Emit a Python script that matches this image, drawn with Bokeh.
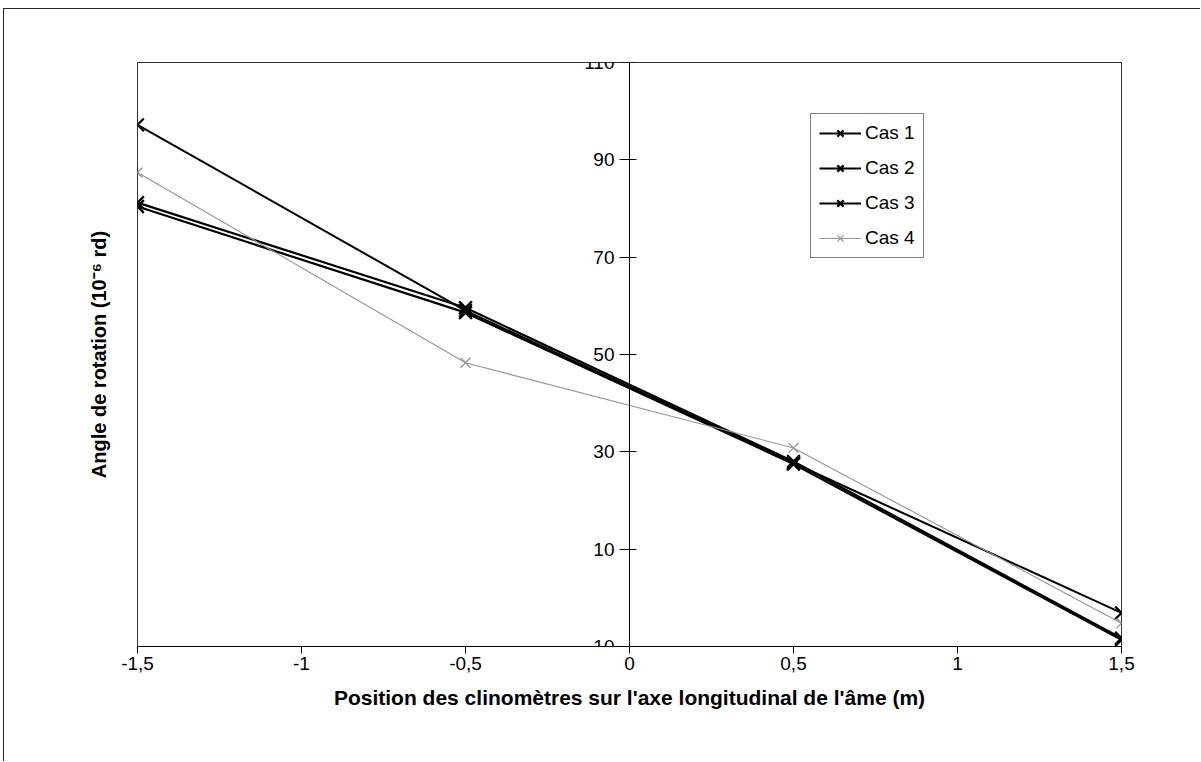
import math
from bokeh.plotting import figure
from bokeh.models import (Range1d, FixedTicker, CustomJSTickFormatter, Legend, LegendItem, Title)
from bokeh.embed import file_html
from bokeh.resources import INLINE

# ---- data ----
positions = [-1.5, -0.5, 0.5, 1.5]
cas1 = [97.2, 59.0, 27.7, -3.1]
cas2 = [81.2, 59.6, 28.0, -8.3]
cas3 = [80.4, 58.6, 27.5, -8.6]
cas4 = [87.4, 48.3, 30.8, -5.2]
series_names = ["Cas 1", "Cas 2", "Cas 3", "Cas 4"]
x_ticks = [-1.5, -1.0, -0.5, 0.0, 0.5, 1.0, 1.5]
y_ticks = [-10, 10, 30, 50, 70, 90, 110]

FONT = "Liberation Sans"

p = figure(width=1197, height=753, output_backend="svg", toolbar_location=None,
           x_range=Range1d(-1.5, 1.5), y_range=Range1d(-10, 110),
           min_border_left=133, min_border_right=80, min_border_top=53, min_border_bottom=116)
p.styles = {"border-top": "1px solid #222", "border-left": "1px solid #222",
            "margin-top": "8px", "margin-left": "3px"}
p.xgrid.visible = False
p.ygrid.visible = False
p.outline_line_color = "#333333"
p.outline_line_width = 1
p.background_fill_color = "white"
p.border_fill_color = "white"

# x axis
xa = p.xaxis[0]
xa.ticker = FixedTicker(ticks=x_ticks)
xa.formatter = CustomJSTickFormatter(code="return tick.toString().replace('.', ',');")
xa.minor_tick_line_color = None
xa.major_tick_out = 7
xa.major_tick_in = 0
xa.major_label_standoff = 3
xa.axis_line_color = "black"
xa.major_tick_line_color = "black"
xa.major_label_text_font = FONT
xa.major_label_text_font_size = "19px"
xa.major_label_text_color = "black"
xa.axis_label = "Position des clinomètres sur l'axe longitudinal de l'âme (m)"
xa.axis_label_text_font = FONT
xa.axis_label_text_font_size = "21px"
xa.axis_label_text_font_style = "bold"
xa.axis_label_text_color = "black"
xa.axis_label_standoff = 13

# y axis at x = 0
ya = p.yaxis[0]
ya.fixed_location = 0
ya.ticker = FixedTicker(ticks=y_ticks)
ya.minor_tick_line_color = None
ya.major_tick_out = 10
ya.major_tick_in = 7
ya.major_label_standoff = 5
ya.axis_line_color = "black"
ya.major_tick_line_color = "black"
ya.major_label_text_font = FONT
ya.major_label_text_font_size = "19px"
ya.major_label_text_color = "black"

p.add_layout(Title(text="Angle de rotation (10⁻⁶ rd)", align="center",
                   text_font=FONT, text_font_size="20px", text_font_style="bold",
                   text_color="black", standoff=56), "left")

styles = [
    dict(color="black", lw=2.0, size=18, mlw=2.2),
    dict(color="black", lw=2.2, size=18, mlw=2.4),
    dict(color="black", lw=2.2, size=18, mlw=2.4),
    dict(color="#959595", lw=1.1, size=14, mlw=1.3),
]
items = []
for name, vals, st in zip(series_names, [cas1, cas2, cas3, cas4], styles):
    r1 = p.line(positions, vals, line_color=st["color"], line_width=st["lw"])
    r2 = p.scatter(positions, vals, marker="x", size=st["size"], line_color=st["color"],
                   line_width=st["mlw"])
    items.append(LegendItem(label=name, renderers=[r1, r2]))

legend = Legend(items=items, location=(673, 388), orientation="vertical",
                label_text_font=FONT, label_text_font_size="19px", label_text_color="black",
                glyph_width=42, glyph_height=22, label_height=22, spacing=13,
                padding=8, margin=0, label_standoff=4,
                border_line_color="black", border_line_width=1,
                background_fill_color="white", background_fill_alpha=1.0)
p.add_layout(legend)

open("out.html", "w").write(file_html(p, INLINE))
